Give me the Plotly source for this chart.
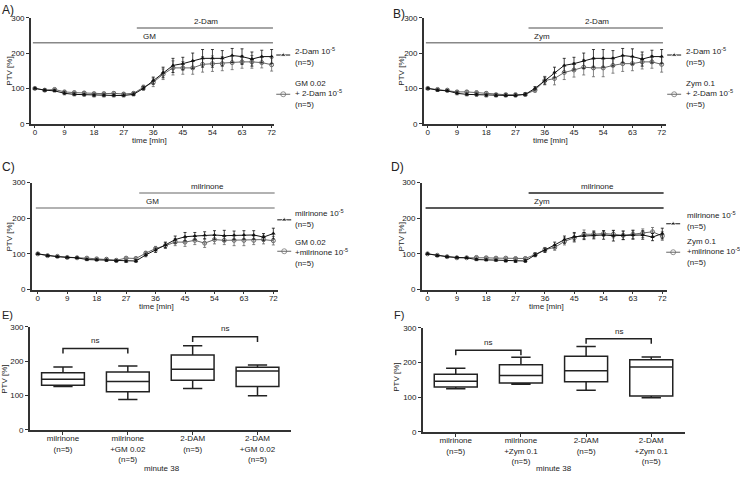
import plotly.graph_objects as go

W, H = 740, 477

# time course, every 3 min
time_min = list(range(0, 73, 3))

dam = [100, 95, 93, 86, 83, 82, 80, 80, 80, 80, 83, 100, 122, 145, 165, 170, 178, 185, 185, 185, 193, 190, 183, 190, 190]
dam_err = [2, 3, 3, 4, 4, 4, 4, 4, 4, 4, 4, 5, 10, 15, 20, 18, 22, 25, 25, 22, 20, 22, 20, 18, 20]
gm_dam = [100, 95, 97, 90, 88, 87, 85, 85, 86, 84, 86, 103, 117, 140, 158, 158, 158, 168, 170, 170, 173, 175, 175, 173, 167]
gm_dam_err = [2, 3, 3, 4, 4, 4, 4, 4, 4, 4, 4, 6, 12, 15, 20, 18, 18, 22, 22, 20, 20, 18, 18, 15, 18]
zym_dam = [100, 97, 95, 90, 90, 88, 86, 82, 82, 82, 83, 95, 122, 128, 145, 152, 160, 158, 158, 165, 170, 170, 175, 175, 168]
zym_dam_err = [2, 3, 3, 4, 4, 4, 4, 4, 4, 4, 4, 6, 12, 18, 20, 20, 22, 25, 25, 22, 22, 20, 20, 18, 22]

mil = [100, 95, 92, 90, 89, 84, 83, 82, 80, 79, 80, 97, 110, 125, 140, 148, 150, 152, 153, 151, 152, 153, 153, 147, 157]
mil_err = [2, 2, 2, 2, 2, 3, 3, 3, 3, 3, 4, 5, 6, 8, 10, 12, 10, 10, 12, 15, 12, 12, 12, 10, 15]
gm_mil = [100, 95, 93, 90, 89, 88, 86, 85, 82, 88, 87, 102, 115, 123, 133, 133, 138, 130, 140, 138, 138, 138, 138, 140, 137]
gm_mil_err = [2, 2, 2, 2, 2, 3, 3, 3, 3, 3, 4, 5, 6, 8, 10, 12, 12, 12, 12, 12, 15, 15, 12, 12, 12]
zym_mil = [100, 96, 92, 89, 89, 90, 89, 88, 88, 87, 87, 98, 112, 118, 135, 145, 155, 155, 157, 155, 152, 155, 158, 162, 150]
zym_mil_err = [2, 2, 2, 2, 2, 3, 3, 3, 3, 3, 4, 5, 6, 8, 10, 12, 12, 10, 8, 10, 12, 12, 12, 12, 12]

# box plots, minute 38
labels_gm = ["milrinone<br>(n=5)", "milrinone<br>+GM 0.02<br>(n=5)", "2-DAM<br>(n=5)", "2-DAM<br>+GM 0.02<br>(n=5)"]
labels_zym = ["milrinone<br>(n=5)", "milrinone<br>+Zym 0.1<br>(n=5)", "2-DAM<br>(n=5)", "2-DAM<br>+Zym 0.1<br>(n=5)"]
e_low = [126, 88, 120, 99]
e_q1 = [130, 111, 144, 126]
e_med = [147, 141, 176, 171]
e_q3 = [166, 168, 218, 182]
e_high = [183, 186, 245, 189]
f_low = [124, 137, 120, 98]
f_q1 = [129, 141, 144, 103]
f_med = [146, 162, 176, 187]
f_q3 = [166, 193, 218, 208]
f_high = [183, 215, 246, 216]

FONT = "Liberation Sans, Arial, sans-serif"
GREY = "#666"


def dx(a, b):
    return [a / W, b / W]


def dy(top, bottom):
    return [1 - bottom / H, 1 - top / H]


fig = go.Figure()

panels = [
    ("", dam, dam_err, gm_dam, gm_dam_err),
    ("2", dam, dam_err, zym_dam, zym_dam_err),
    ("3", mil, mil_err, gm_mil, gm_mil_err),
    ("4", mil, mil_err, zym_mil, zym_mil_err),
]
for ax, s1, e1, s2, e2 in panels:
    fig.add_trace(go.Scatter(x=time_min, y=s2, mode="lines+markers",
                             line=dict(color=GREY, width=1),
                             marker=dict(symbol="circle-open", size=4, color=GREY),
                             error_y=dict(type="data", array=e2, thickness=0.8, width=1.5, color=GREY),
                             xaxis="x" + ax, yaxis="y" + ax, showlegend=False))
    fig.add_trace(go.Scatter(x=time_min, y=s1, mode="lines+markers",
                             line=dict(color="#111", width=1),
                             marker=dict(symbol="triangle-up", size=4, color="#111"),
                             error_y=dict(type="data", array=e1, thickness=0.8, width=1.5, color="#111"),
                             xaxis="x" + ax, yaxis="y" + ax, showlegend=False))

for ax, lo, q1, md, q3, hi in [("5", e_low, e_q1, e_med, e_q3, e_high),
                                ("6", f_low, f_q1, f_med, f_q3, f_high)]:
    fig.add_trace(go.Box(x=[0, 1, 2, 3], lowerfence=lo, q1=q1, median=md, q3=q3, upperfence=hi,
                         width=0.66, whiskerwidth=0.45, boxpoints=False,
                         line=dict(color="#222", width=1.5), fillcolor="white",
                         xaxis="x" + ax, yaxis="y" + ax, showlegend=False))

# legend keys drawn on a pixel overlay axis
keys = [(284, 52, 92), (676, 52, 92), (285, 220, 252), (675, 224, 253)]
for cx, y1, y2 in keys:
    fig.add_trace(go.Scatter(x=[cx - 7, cx, cx + 7], y=[y1] * 3, mode="lines+markers",
                             line=dict(color="#111", width=1),
                             marker=dict(symbol="triangle-up", size=[0, 5, 0], color="#111"),
                             xaxis="x7", yaxis="y7", showlegend=False, hoverinfo="skip"))
    fig.add_trace(go.Scatter(x=[cx - 7, cx, cx + 7], y=[y2] * 3, mode="lines+markers",
                             line=dict(color=GREY, width=1),
                             marker=dict(symbol="circle-open", size=[0, 5, 0], color=GREY),
                             xaxis="x7", yaxis="y7", showlegend=False, hoverinfo="skip"))

tick_font = dict(family=FONT, size=8, color="#222")
time_ax = dict(tickvals=list(range(0, 73, 9)), ticks="outside", ticklen=3, tickwidth=1,
               tickcolor="#333", showline=True, linecolor="#333", linewidth=1.5,
               showgrid=False, zeroline=False, tickfont=tick_font, ticklabelstandoff=-3)
ptv_ax = dict(range=[0, 300], tickvals=[0, 100, 200, 300], ticks="outside", ticklen=3,
              tickwidth=1, tickcolor="#333", showline=True, linecolor="#333", linewidth=1.5,
              showgrid=False, zeroline=False, tickfont=tick_font)
cat_ax = dict(tickvals=[0, 1, 2, 3], ticks="outside", ticklen=3, tickwidth=1, tickcolor="#333",
              showline=True, linecolor="#333", linewidth=1.5, showgrid=False, zeroline=False,
              tickfont=tick_font, ticklabelstandoff=-3)

fig.update_layout(
    width=W, height=H, margin=dict(l=0, r=0, t=0, b=0),
    paper_bgcolor="white", plot_bgcolor="rgba(0,0,0,0)", hovermode=False,
    font=dict(family=FONT, size=8, color="#222"),
    xaxis=dict(time_ax, domain=dx(31, 275), range=[-1.2, 72.8], anchor="y"),
    yaxis=dict(ptv_ax, domain=dy(14, 122), anchor="x"),
    xaxis2=dict(time_ax, domain=dx(425, 668), range=[-1.23, 73.4], anchor="y2"),
    yaxis2=dict(ptv_ax, domain=dy(14, 122), anchor="x2"),
    xaxis3=dict(time_ax, domain=dx(32, 279), range=[-1.8, 73.5], anchor="y3"),
    yaxis3=dict(ptv_ax, domain=dy(182, 291), anchor="x3"),
    xaxis4=dict(time_ax, domain=dx(423, 669), range=[-1.74, 73.5], anchor="y4"),
    yaxis4=dict(ptv_ax, domain=dy(182, 291), anchor="x4"),
    xaxis5=dict(cat_ax, domain=dx(30, 292), range=[-0.51, 3.52], ticktext=labels_gm, anchor="y5"),
    yaxis5=dict(ptv_ax, domain=dy(329, 434), anchor="x5"),
    xaxis6=dict(cat_ax, domain=dx(424, 687), range=[-0.505, 3.52], ticktext=labels_zym, anchor="y6"),
    yaxis6=dict(ptv_ax, domain=dy(330, 436), anchor="x6"),
    xaxis7=dict(domain=[0, 1], range=[0, W], visible=False, anchor="y7"),
    yaxis7=dict(domain=[0, 1], range=[H, 0], visible=False, anchor="x7"),
)

shapes = []
annotations = []


def ann(text, x, y, size=8, xanchor="center", **kw):
    annotations.append(dict(text=text, x=x / W, y=1 - y / H, xref="paper", yref="paper",
                            showarrow=False, xanchor=xanchor, yanchor="middle",
                            font=dict(family=FONT, size=size, color="#222"), **kw))


# treatment bars and labels
bars = [("", "2-Dam", "GM", "#888"), ("2", "2-Dam", "Zym", "#888"),
        ("3", "milrinone", "GM", "#999"), ("4", "milrinone", "Zym", "#222")]
for ax, treat, pre, col in bars:
    xr, yr = "x" + ax, "y" + ax
    shapes.append(dict(type="line", xref=xr, yref=yr, x0=31, x1=72.4, y0=271, y1=271,
                       line=dict(color=col, width=1.5)))
    shapes.append(dict(type="line", xref=xr, yref=yr, x0=-0.6, x1=72.4, y0=229, y1=229,
                       line=dict(color=col, width=1.5)))
    annotations.append(dict(text=treat, x=52, y=288, xref=xr, yref=yr, showarrow=False,
                            font=dict(family=FONT, size=8, color="#222")))
    annotations.append(dict(text=pre, x=35, y=246, xref=xr, yref=yr, showarrow=False,
                            font=dict(family=FONT, size=8, color="#222")))

# significance brackets
for ax, br in [("5", [(0, 1, 237, 222, 260), (2, 3, 271, 256, 296)]),
               ("6", [(0, 1, 235, 221, 257), (2, 3, 268, 254, 290)])]:
    for a, b, top, foot, ty in br:
        shapes.append(dict(type="path", xref="x" + ax, yref="y" + ax,
                           path=f"M {a},{foot} L {a},{top} L {b},{top} L {b},{foot}",
                           line=dict(color="#222", width=1.5)))
        annotations.append(dict(text="ns", x=(a + b) / 2, y=ty, xref="x" + ax, yref="y" + ax,
                                showarrow=False, font=dict(family=FONT, size=8, color="#222")))

# panel letters
for lab, x, y, s in [("A)", 0, 6, 12), ("B)", 392, 10, 12), ("C)", 0, 166, 12),
                     ("D)", 390, 166, 12), ("E)", 0, 317, 11), ("F)", 393, 317, 11)]:
    ann(lab, x, y, size=s, xanchor="left")

# axis titles
for x, y in [(10, 68), (403, 68), (10, 237), (403, 237), (5, 382), (398, 380)]:
    ann("PTV [%]", x, y, textangle=-90)
for x, y in [(150, 139), (552, 139), (157, 308), (548, 308)]:
    ann("time [min]", x, y)
ann("minute 38", 162, 473)
ann("minute 38", 555, 473)

# legend texts
leg = [
    (294, 54, "2-Dam 10<sup>-5</sup><br>(n=5)", 92, "GM 0.02<br>+ 2-Dam 10<sup>-5</sup><br>(n=5)"),
    (686, 54, "2-Dam 10<sup>-5</sup><br>(n=5)", 92, "Zym 0.1<br>+ 2-Dam 10<sup>-5</sup><br>(n=5)"),
    (294, 219, "milrinone 10<sup>-5</sup><br>(n=5)", 254, "GM 0.02<br>+milrinone 10<sup>-5</sup><br>(n=5)"),
    (687, 221, "milrinone 10<sup>-5</sup><br>(n=5)", 253, "Zym 0.1<br>+milrinone 10<sup>-5</sup><br>(n=5)"),
]
for x, y1, t1, y2, t2 in leg:
    ann(t1, x, y1, xanchor="left", align="left")
    ann(t2, x, y2, xanchor="left", align="left")

fig.update_layout(shapes=shapes, annotations=annotations)
fig.write_html("out.html", config={"displayModeBar": False},
               post_script="document.body.style.margin='0';")
